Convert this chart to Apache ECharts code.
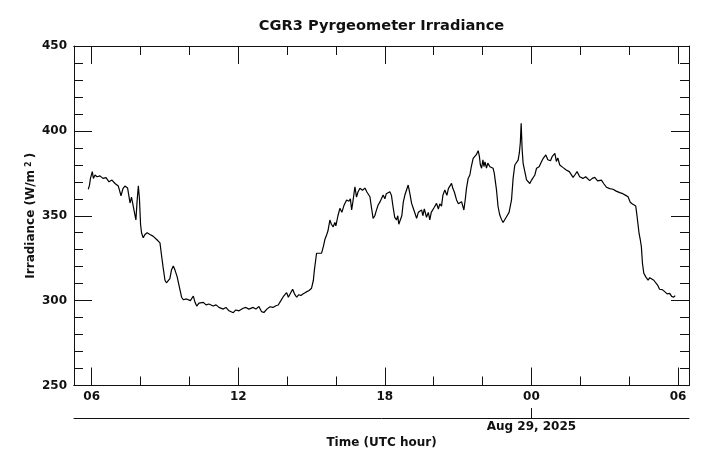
<!DOCTYPE html>
<html>
<head>
<meta charset="utf-8">
<script src="https://cdn.jsdelivr.net/npm/echarts@6/dist/echarts.min.js"></script>
<style>
  html, body { margin: 0; padding: 0; background: #fff; }
  #chart { width: 711px; height: 467px; }
</style>
</head>
<body>
<div id="chart"></div>
<script>
// time in UTC hours counted from Aug 28 00:00 (24 = Aug 29 00:00)
const hours = [
  5.861, 5.91, 5.95, 6.025, 6.07, 6.135, 6.217, 6.34, 6.46, 6.585, 6.71, 6.83, 6.955, 7.09,
  7.2, 7.28, 7.36, 7.47, 7.57, 7.63, 7.68, 7.75, 7.81, 7.855, 7.91, 7.955, 8.0, 8.04,
  8.11, 8.18, 8.27, 8.385, 8.51, 8.66, 8.795, 8.865, 8.92, 9.0, 9.06, 9.13, 9.2, 9.265,
  9.34, 9.41, 9.5, 9.59, 9.68, 9.755, 9.82, 9.88, 9.95, 10.04, 10.16, 10.23, 10.3, 10.39,
  10.47, 10.57, 10.68, 10.8, 10.975, 11.09, 11.21, 11.385, 11.495, 11.62, 11.795, 11.9, 12.03, 12.2,
  12.31, 12.435, 12.61, 12.72, 12.845, 12.955, 13.05, 13.17, 13.3, 13.42, 13.54, 13.635, 13.745, 13.84,
  13.98, 14.05, 14.115, 14.225, 14.3, 14.39, 14.48, 14.565, 14.66, 14.77, 14.9, 15.0, 15.075, 15.115,
  15.205, 15.28, 15.41, 15.485, 15.545, 15.615, 15.67, 15.75, 15.81, 15.885, 15.955, 15.995, 16.08, 16.16,
  16.24, 16.325, 16.435, 16.53, 16.59, 16.64, 16.69, 16.775, 16.84, 16.9, 16.98, 17.085, 17.185, 17.265,
  17.325, 17.39, 17.45, 17.52, 17.59, 17.65, 17.725, 17.795, 17.855, 17.93, 18.0, 18.06, 18.12, 18.205,
  18.27, 18.335, 18.405, 18.475, 18.53, 18.57, 18.64, 18.695, 18.755, 18.82, 18.88, 18.955, 19.025, 19.095,
  19.15, 19.21, 19.3, 19.37, 19.435, 19.505, 19.555, 19.615, 19.705, 19.78, 19.84, 19.9, 19.965, 20.025,
  20.115, 20.19, 20.25, 20.32, 20.375, 20.455, 20.54, 20.6, 20.66, 20.73, 20.785, 20.845, 20.935, 21.01,
  21.07, 21.14, 21.235, 21.295, 21.34, 21.41, 21.48, 21.54, 21.615, 21.685, 21.745, 21.82, 21.87, 21.91,
  21.96, 22.015, 22.055, 22.1, 22.16, 22.215, 22.3, 22.36, 22.43, 22.48, 22.57, 22.635, 22.705, 22.77,
  22.84, 22.91, 22.98, 23.035, 23.085, 23.185, 23.25, 23.32, 23.385, 23.455, 23.505, 23.545, 23.58, 23.62,
  23.66, 23.73, 23.8, 23.865, 23.935, 24.005, 24.06, 24.14, 24.21, 24.265, 24.315, 24.41, 24.49, 24.59,
  24.67, 24.78, 24.855, 24.96, 25.02, 25.08, 25.16, 25.285, 25.425, 25.55, 25.705, 25.775, 25.87, 25.975,
  26.11, 26.22, 26.385, 26.49, 26.59, 26.71, 26.865, 26.955, 27.07, 27.205, 27.34, 27.47, 27.615, 27.74,
  27.86, 27.955, 28.045, 28.135, 28.27, 28.33, 28.405, 28.455, 28.5, 28.545, 28.6, 28.68, 28.775, 28.845,
  28.915, 29.01, 29.09, 29.17, 29.245, 29.355, 29.455, 29.555, 29.66, 29.74, 29.825, 29.885
];
// irradiance, W/m2
const irradiance = [
  365.6, 368, 372, 376, 372, 374, 373, 373.5, 372, 372.5, 370, 371, 369, 367.5,
  361.8, 366, 367.5, 366.3, 357.5, 361, 360.5, 352, 347.5, 358, 367.7, 360, 345, 340,
  337, 339, 340, 339, 338, 336, 334, 326, 320, 312, 310.5, 310, 313, 318,
  320.4, 318, 314, 308, 302, 300.5, 299.4, 301, 300.4, 300, 302.7, 299, 296.8, 298.5,
  297.5, 299, 297.5, 298, 296.8, 297.5, 296, 295, 296, 294, 292.9, 294.5, 294, 295.5,
  296, 295, 296, 295, 296.5, 293.5, 293, 295, 296.4, 296, 297, 297.4, 300, 302.3,
  304.7, 302, 302.3, 306.7, 304, 302, 303.5, 303, 304, 305, 306, 307.3, 312, 318,
  327.9, 329, 328, 332, 336, 338.7, 341, 347.5, 345, 343.5, 346, 344, 350, 354.4,
  352, 356, 359.3, 358.5, 360, 353.4, 358, 367.1, 361, 364, 366.2, 365, 366.3, 364,
  365, 361.2, 355, 348.5, 350, 353, 356.3, 358, 357, 362.2, 360, 363, 362, 364.2,
  362, 355.3, 349, 347.5, 350, 345, 344.5, 350, 358, 362.2, 362, 368.1, 363, 357.3,
  355, 354, 348.5, 352, 351, 353.4, 350, 354, 349.1, 352, 347.5, 352, 351, 355,
  357.3, 354, 357, 355.7, 362, 365.2, 362, 366, 367, 369.1, 366, 364, 359.3, 357,
  358, 358.3, 353.4, 360, 366, 372, 374, 379, 383.8, 384, 386, 388.3, 385, 380,
  378, 383, 379, 381.8, 378, 381, 378.9, 380, 378, 375, 365.2, 355.3, 350.4, 348,
  346, 345.5, 349.4, 350, 352, 359.3, 372, 379.9, 381, 382.8, 387, 393, 404.5, 389,
  380.9, 376, 371.1, 370, 369, 371, 370.5, 374, 378, 378.5, 378.9, 381.8, 384, 385.8,
  383, 382.4, 385, 386.7, 382, 384, 379.9, 378.5, 377, 376, 372.6, 374, 376, 373,
  372, 373, 370.7, 372, 372.6, 370.5, 371, 369, 366.8, 366, 365.6, 364.5, 363.6, 363,
  362, 361.2, 358, 356.9, 355.7, 349, 339.7, 336, 331.8, 322, 316.1, 314, 312.1, 313.5,
  313.2, 312, 311.2, 309, 306.7, 306.5, 305.3, 304, 304.3, 302.5, 302, 303
];
const hourTicks = [6, 12, 18, 24, 30];
const hourMinorTicks = [8, 10, 14, 16, 20, 22, 26, 28];
const dateTicks = [24];
const dateLabel = 'Aug 29, 2025';
const xMin = 5.276;
const xMax = 30.45;

const FONT = 'DejaVu Sans';
const INK = '#111';
const axisLine = { show: true, lineStyle: { color: INK, width: 1 } };
const noLabel = { show: false };

function hourAxis(position, ticks, len, withLabels) {
  return {
    type: 'value', position: position, min: xMin, max: xMax,
    axisLine: axisLine,
    axisTick: { show: true, inside: true, length: len, customValues: ticks, lineStyle: { color: INK, width: 1 } },
    axisLabel: withLabels ? {
      show: true, customValues: ticks, margin: 5,
      fontFamily: FONT, fontWeight: 'bold', fontSize: 12, color: INK,
      formatter: v => String(Math.round(v) % 24).padStart(2, '0')
    } : noLabel,
    splitLine: { show: false }
  };
}

function yAxis(position, withLabels) {
  const ax = {
    type: 'value', position: position, min: 250, max: 450, interval: 50,
    axisLine: axisLine,
    axisTick: { show: true, inside: true, length: 18, lineStyle: { color: INK, width: 1 } },
    minorTick: { show: true, splitNumber: 5, length: 9, lineStyle: { color: INK, width: 1 } },
    axisLabel: withLabels ? { show: true, margin: 7, fontFamily: FONT, fontWeight: 'bold', fontSize: 12, color: INK } : noLabel,
    splitLine: { show: false },
    minorSplitLine: { show: false }
  };
  if (withLabels) {
    ax.name = 'Irradiance (W/m{s|2})';
    ax.nameLocation = 'middle';
    ax.nameGap = 37;
    ax.nameMoveOverlap = false;
    ax.nameTextStyle = {
      fontFamily: FONT, fontWeight: 'bold', fontSize: 12, color: INK,
      rich: { s: { fontFamily: FONT, fontWeight: 'bold', fontSize: 8, color: INK, verticalAlign: 'top', padding: [0, 3, 4, 3] } }
    };
  }
  return ax;
}

const chart = echarts.init(document.getElementById('chart'), null, { renderer: 'canvas' });
chart.setOption({
  animation: false,
  backgroundColor: '#fff',
  title: {
    text: 'CGR3 Pyrgeometer Irradiance',
    left: 381.5, top: 19, textAlign: 'center', padding: 0,
    textStyle: { fontFamily: FONT, fontWeight: 'bold', fontSize: 14.6, color: INK }
  },
  grid: { left: 74, right: 22, top: 46, bottom: 81.5, containLabel: false },
  xAxis: [
    hourAxis('bottom', hourTicks, 18, true),
    hourAxis('bottom', hourMinorTicks, 9, false),
    hourAxis('top', hourTicks, 18, false),
    hourAxis('top', hourMinorTicks, 9, false),
    {
      type: 'value', position: 'bottom', offset: 32.5, min: xMin, max: xMax,
      axisLine: axisLine,
      axisTick: { show: true, inside: true, length: 10, customValues: dateTicks, lineStyle: { color: INK, width: 1 } },
      axisLabel: { show: true, customValues: dateTicks, margin: 3, fontFamily: FONT, fontWeight: 'bold', fontSize: 12, color: INK, formatter: () => dateLabel },
      splitLine: { show: false },
      name: 'Time (UTC hour)', nameLocation: 'middle', nameGap: 19, nameMoveOverlap: false,
      nameTextStyle: { fontFamily: FONT, fontWeight: 'bold', fontSize: 12, color: INK, verticalAlign: 'top' }
    }
  ],
  yAxis: [yAxis('left', true), yAxis('right', false)],
  series: [{
    type: 'line',
    xAxisIndex: 0, yAxisIndex: 0,
    data: hours.map((h, i) => [h, irradiance[i]]),
    showSymbol: false,
    lineStyle: { color: '#000', width: 1.2 }
  }]
});
</script>
</body>
</html>
